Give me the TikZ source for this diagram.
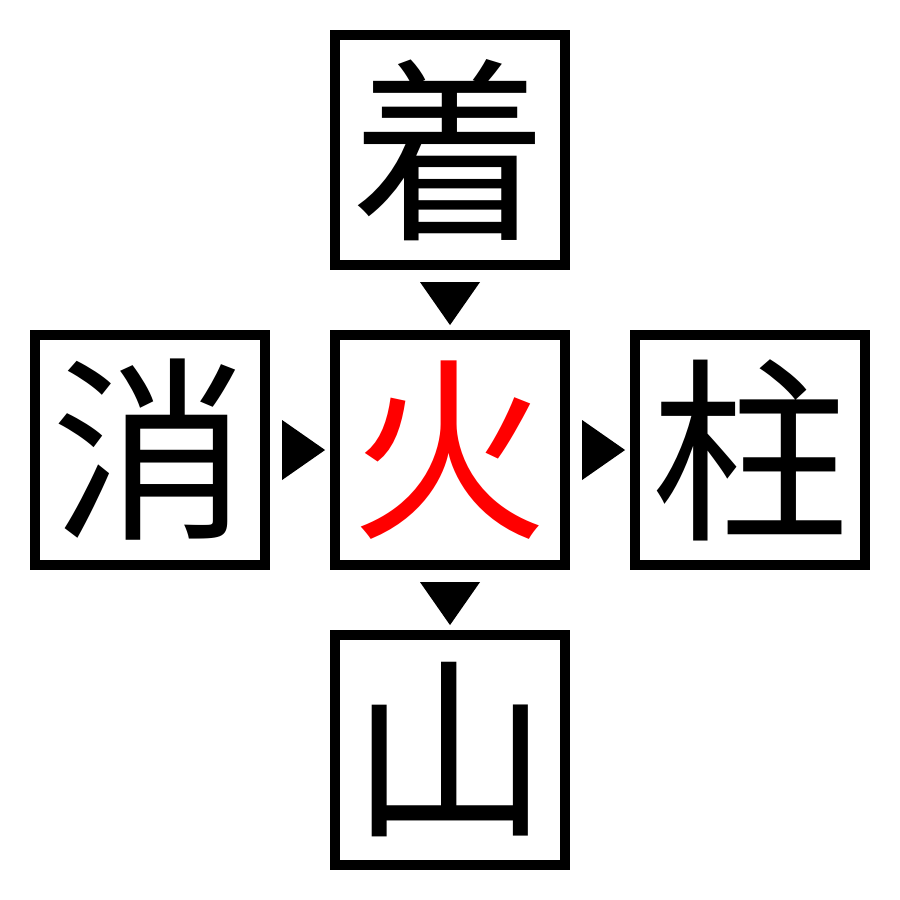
\documentclass[tikz,border=0pt]{standalone}
\usepackage{fontspec}
\newfontfamily\cjk{Noto Sans CJK JP}
\usetikzlibrary{calc}
\begin{document}
\begin{tikzpicture}[x=0.01cm,y=-0.01cm,
  charbox/.style={draw=black,line width=0.1cm,minimum size=2.3cm,inner sep=0pt,
    font=\cjk\fontsize{56}{56}\selectfont},
  tri/.style={fill=black}]
\useasboundingbox (0,0) rectangle (900,900);
\node[charbox] (top) at (450,150) {着};
\node[charbox] (left) at (150,450) {消};
\node[charbox,text=red] (mid) at (450,450) {火};
\node[charbox] (right) at (750,450) {柱};
\node[charbox] (bot) at (450,750) {山};
% down triangle top -> mid
\fill[tri] ($(top.south)+(-30,12)$) -- ($(top.south)+(30,12)$) -- ($(top.south)+(0,55)$) -- cycle;
% down triangle mid -> bot
\fill[tri] ($(mid.south)+(-30,12)$) -- ($(mid.south)+(30,12)$) -- ($(mid.south)+(0,55)$) -- cycle;
% right triangle left -> mid
\fill[tri] ($(left.east)+(12,-30)$) -- ($(left.east)+(12,30)$) -- ($(left.east)+(55,0)$) -- cycle;
% right triangle mid -> right
\fill[tri] ($(mid.east)+(12,-30)$) -- ($(mid.east)+(12,30)$) -- ($(mid.east)+(55,0)$) -- cycle;
\end{tikzpicture}
\end{document}
